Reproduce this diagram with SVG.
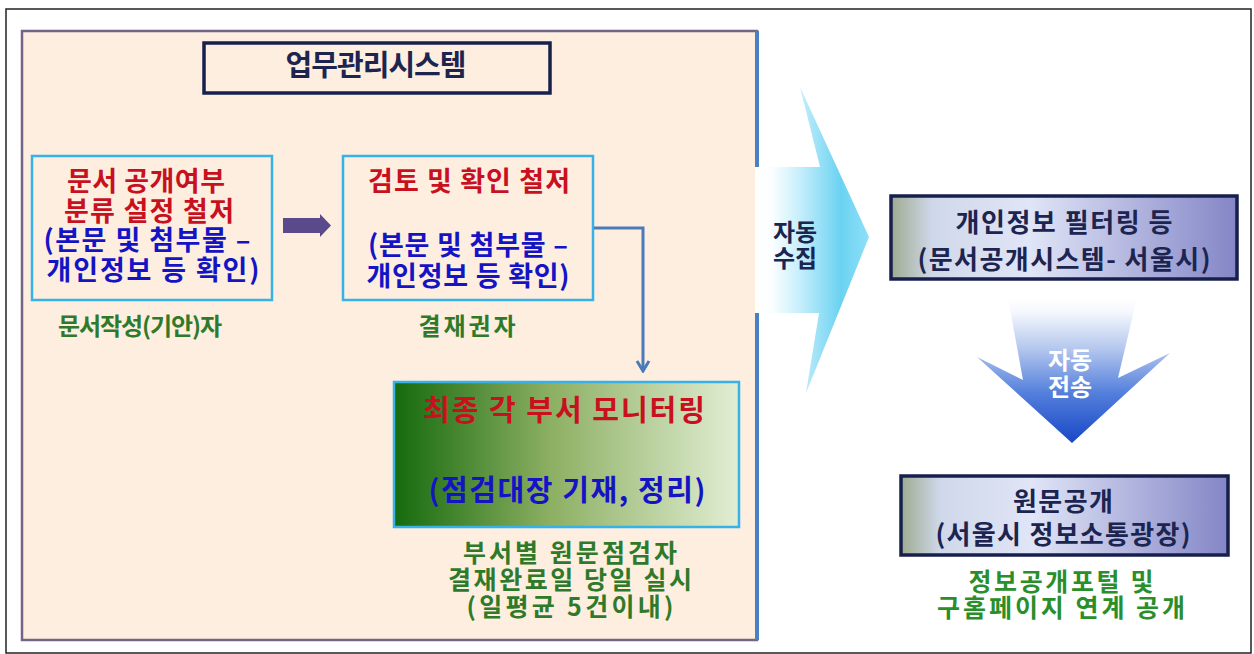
<svg xmlns="http://www.w3.org/2000/svg" width="1254" height="654" viewBox="0 0 1254 654">
<style>
text{font-family:"Noto Sans CJK KR","Noto Sans",sans-serif;font-weight:bold;text-anchor:middle}
.red{fill:#c8101e;font-size:27px}
.blue{fill:#1414c4;font-size:27px}
.grn{fill:#2f7a2a;font-size:24px}
.grn2{fill:#2a8f2a;font-size:25px}
.navy{fill:#1c2450;font-size:26px}
.wht{fill:#ffffff;font-size:24px}
.cbox{stroke:#35b2e6;stroke-width:2.5}
.nbox{stroke:#17204d;stroke-width:3.5}
</style>
<defs>
<linearGradient id="gGreen" x1="0" y1="0" x2="1" y2="0">
<stop offset="0" stop-color="#156a0e"/>
<stop offset="0.45" stop-color="#8caf62"/>
<stop offset="1" stop-color="#e2eed4"/>
</linearGradient>
<linearGradient id="gLav" x1="0" y1="0" x2="1" y2="0">
<stop offset="0" stop-color="#9eab90"/>
<stop offset="0.12" stop-color="#cfd8ea"/>
<stop offset="0.4" stop-color="#e0e5f7"/>
<stop offset="1" stop-color="#8486c6"/>
</linearGradient>
<linearGradient id="gCyan" x1="0" y1="0" x2="1" y2="0">
<stop offset="0" stop-color="#ffffff"/>
<stop offset="0.15" stop-color="#fbfeff"/>
<stop offset="0.4" stop-color="#c4eefb"/>
<stop offset="0.75" stop-color="#6bd2f2"/>
<stop offset="1" stop-color="#8ee0f7"/>
</linearGradient>
<linearGradient id="gBlue" x1="0" y1="0" x2="0" y2="1">
<stop offset="0" stop-color="#ffffff"/>
<stop offset="0.1" stop-color="#f4f7fd"/>
<stop offset="0.35" stop-color="#b4c7ee"/>
<stop offset="0.65" stop-color="#5580dc"/>
<stop offset="1" stop-color="#1747c6"/>
</linearGradient>
<marker id="openArrow" viewBox="0 0 16 16" refX="8" refY="14" markerWidth="16" markerHeight="16" markerUnits="userSpaceOnUse" orient="0">
<path d="M2,4 L8,14 L14,4" fill="none" stroke="#4a7ab8" stroke-width="3"/>
</marker>
</defs>

<rect x="6" y="9" width="1245" height="644" fill="#ffffff" stroke="#222222" stroke-width="1.5"/>

<g id="panel">
<rect x="22" y="31" width="735" height="609" fill="#fdeee0" stroke="#726484" stroke-width="2.5"/>
<line x1="757" y1="31" x2="757" y2="640" stroke="#4a80c4" stroke-width="4"/>
</g>

<g id="title">
<rect x="204" y="43" width="346" height="50" fill="#fdeee0" class="nbox"/>
<text x="376" y="76" class="navy" style="font-size:29px" textLength="181" lengthAdjust="spacing">업무관리시스템</text>
</g>

<g id="box1">
<rect x="32" y="156" width="240" height="144" fill="#fdeee0" class="cbox"/>
<text x="146" y="191" class="red" textLength="158" lengthAdjust="spacing">문서 공개여부</text>
<text x="149" y="221" class="red" textLength="170" lengthAdjust="spacing">분류 설정 철저</text>
<text x="147" y="250" class="blue" textLength="207" lengthAdjust="spacing">(본문 및 첨부물 –</text>
<text x="153" y="280" class="blue" textLength="213" lengthAdjust="spacing">개인정보 등 확인)</text>
</g>
<g id="label1">
<text x="140" y="335" class="grn" textLength="164" lengthAdjust="spacing">문서작성(기안)자</text>
</g>

<g id="box2">
<rect x="343" y="156" width="250" height="144" fill="#fdeee0" class="cbox"/>
<text x="469" y="191" class="red" textLength="202" lengthAdjust="spacing">검토 및 확인 철저</text>
<text x="468" y="255" class="blue" textLength="200" lengthAdjust="spacing">(본문 및 첨부물 –</text>
<text x="468" y="286" class="blue" textLength="203" lengthAdjust="spacing">개인정보 등 확인)</text>
</g>
<g id="label2">
<text x="467" y="335" class="grn" textLength="97" lengthAdjust="spacing">결재권자</text>
</g>

<g id="box3">
<rect x="394" y="382" width="345" height="145" fill="url(#gGreen)" class="cbox"/>
<text x="564" y="421" class="red" style="font-size:29px" textLength="282" lengthAdjust="spacing">최종 각 부서 모니터링</text>
<text x="567" y="501" class="blue" style="font-size:29px" textLength="277" lengthAdjust="spacing">(점검대장 기재, 정리)</text>
</g>
<g id="label3">
<text x="570" y="562" class="grn" style="font-size:25px" textLength="214" lengthAdjust="spacing">부서별 원문점검자</text>
<text x="570" y="589" class="grn" style="font-size:25px" textLength="244" lengthAdjust="spacing">결재완료일 당일 실시</text>
<text x="570" y="616" class="grn" style="font-size:25px" textLength="207" lengthAdjust="spacing">(일평균 5건이내)</text>
</g>

<g id="collect">
<polygon points="755,167 820,167 800,87 869,237 806,393 819,313 755,313" fill="url(#gCyan)"/>
<text x="795" y="241" class="navy" style="font-size:24px">자동</text>
<text x="795" y="267" class="navy" style="font-size:24px">수집</text>
</g>

<g id="box4">
<rect x="891" y="196" width="346" height="83" fill="url(#gLav)" class="nbox"/>
<text x="1064" y="232" class="navy" textLength="217" lengthAdjust="spacing">개인정보 필터링 등</text>
<text x="1064" y="269" class="navy" textLength="293" lengthAdjust="spacing">(문서공개시스템- 서울시)</text>
</g>

<g id="transfer">
<polygon points="1008,298 1137,298 1118,378 1170,353 1072,443 977,357 1023,380" fill="url(#gBlue)"/>
<text x="1070" y="369" class="wht">자동</text>
<text x="1070" y="396" class="wht">전송</text>
</g>

<g id="box5">
<rect x="901" y="476" width="327" height="79" fill="url(#gLav)" class="nbox"/>
<text x="1063" y="511" class="navy" textLength="100" lengthAdjust="spacing">원문공개</text>
<text x="1063" y="544" class="navy" textLength="255" lengthAdjust="spacing">(서울시 정보소통광장)</text>
</g>
<g id="label5">
<text x="1061" y="591" class="grn2" textLength="185" lengthAdjust="spacing">정보공개포털 및</text>
<text x="1061" y="617" class="grn2" textLength="248" lengthAdjust="spacing">구홈페이지 연계 공개</text>
</g>

<g id="connectors">
<polygon points="283,218 320,218 320,214 331,225.5 320,237 320,233 283,233" fill="#5a4a8c"/>
<path d="M594,228 H643 V371" fill="none" stroke="#4a7ab8" stroke-width="3" marker-end="url(#openArrow)"/>
</g>
</svg>
